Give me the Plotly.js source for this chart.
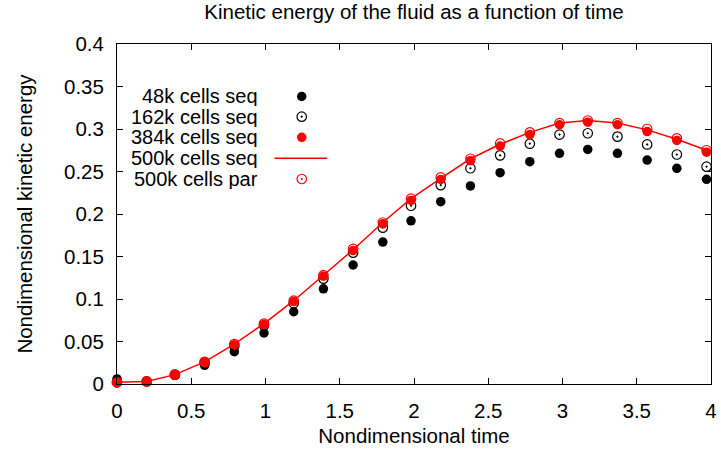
<!DOCTYPE html>
<html>
<head>
<meta charset="utf-8">
<script src="https://cdn.plot.ly/plotly-3.0.1.min.js"></script>
<style>html,body{margin:0;padding:0;background:#fff;}#chart{width:721px;height:454px;}</style>
</head>
<body>
<div id="chart"></div>
<script>
// ---- data ----
const time = [0, 0.2, 0.39, 0.59, 0.79, 0.99, 1.19, 1.39, 1.59, 1.79, 1.98, 2.18, 2.38, 2.58, 2.78, 2.98, 3.17, 3.37, 3.57, 3.77, 3.97];
const ke48kSeq  = [0.006, 0.003, 0.010, 0.022, 0.038, 0.060, 0.085, 0.112, 0.140, 0.167, 0.192, 0.2145, 0.233, 0.2486, 0.2615, 0.2714, 0.276, 0.2714, 0.2635, 0.2537, 0.2408];
const ke162kSeq = [0.002, 0.003, 0.011, 0.025, 0.045, 0.069, 0.095, 0.124, 0.1545, 0.184, 0.2097, 0.234, 0.2538, 0.269, 0.2827, 0.2935, 0.295, 0.291, 0.2818, 0.270, 0.2557];
const ke384kSeq = [0.002, 0.003, 0.011, 0.025, 0.046, 0.070, 0.097, 0.127, 0.157, 0.1885, 0.216, 0.2406, 0.2627, 0.280, 0.2935, 0.305, 0.308, 0.305, 0.297, 0.2865, 0.2727];
const ke500kSeq = [0.002, 0.003, 0.011, 0.026, 0.047, 0.071, 0.098, 0.128, 0.158, 0.190, 0.218, 0.242, 0.265, 0.282, 0.296, 0.307, 0.310, 0.307, 0.299, 0.288, 0.275];
const ke500kPar = [0.002, 0.003, 0.011, 0.026, 0.047, 0.071, 0.098, 0.128, 0.159, 0.190, 0.218, 0.243, 0.265, 0.283, 0.296, 0.307, 0.310, 0.307, 0.300, 0.289, 0.275];
const seriesNames = ["48k cells seq", "162k cells seq", "384k cells seq", "500k cells seq", "500k cells par"];
const xTickVals = [0, 0.5, 1, 1.5, 2, 2.5, 3, 3.5, 4];
const xTickText = ["0", "0.5", "1", "1.5", "2", "2.5", "3", "3.5", "4"];
const yTickVals = [0, 0.05, 0.1, 0.15, 0.2, 0.25, 0.3, 0.35, 0.4];
const yTickText = ["0", "0.05", "0.1", "0.15", "0.2", "0.25", "0.3", "0.35", "0.4"];
const titleText = "Kinetic energy of the fluid as a function of time";
const xTitle = "Nondimensional time";
const yTitle = "Nondimensional kinetic energy";

// ---- styles ----
const FONT = "Liberation Sans, Arial, Helvetica, sans-serif";
const FS = 20.5;
const LEG_FS = 20;
const styles = [
  {mode: "markers", marker: {symbol: "circle", size: 9.5, color: "#000000", line: {width: 0}}},
  {mode: "markers", marker: {symbol: "circle-open-dot", size: 9.5, color: "#000000", line: {width: 1.2}}},
  {mode: "markers", marker: {symbol: "circle", size: 9.5, color: "#ff0000", line: {width: 0}}},
  {mode: "lines", line: {color: "#ff0000", width: 1.5}},
  {mode: "markers", marker: {symbol: "circle-open-dot", size: 9.5, color: "#ff0000", line: {width: 1.2}}}
];
const seriesY = [ke48kSeq, ke162kSeq, ke384kSeq, ke500kSeq, ke500kPar];

const traces = seriesY.map((ys, i) => Object.assign({
  type: "scatter", x: time, y: ys, name: seriesNames[i], showlegend: false, cliponaxis: false
}, styles[i]));

// custom gnuplot-style legend: text right-aligned, sample to the right
const legTextX = 0.2407;
const legSymX = 0.311;
const legLineX = [0.265, 0.354];
const legY = [0.8456, 0.7862, 0.7256, 0.6638, 0.6029];
const annotations = seriesNames.map((n, i) => ({
  xref: "paper", yref: "paper", x: legTextX, y: legY[i], xanchor: "right", yanchor: "middle",
  height: 20, valign: "middle",
  text: n, showarrow: false, font: {family: FONT, size: LEG_FS, color: "#000"}
}));
seriesNames.forEach((n, i) => {
  const s = styles[i];
  const t = {type: "scatter", xaxis: "x2", yaxis: "y2", showlegend: false, hoverinfo: "skip"};
  if (s.mode === "lines") {
    t.x = legLineX; t.y = [legY[i], legY[i]]; t.mode = "lines"; t.line = s.line;
  } else {
    t.x = [legSymX]; t.y = [legY[i]]; t.mode = "markers"; t.marker = s.marker;
  }
  traces.push(t);
});

const axisCommon = {
  showline: true, linecolor: "#000", linewidth: 1, mirror: "allticks",
  ticks: "inside", ticklen: 6, tickcolor: "#000", tickwidth: 1,
  showgrid: false, zeroline: false,
  tickfont: {family: FONT, size: FS, color: "#000"}
};

const layout = {
  width: 721, height: 454,
  margin: {l: 117, r: 10, t: 44, b: 70, pad: 0},
  paper_bgcolor: "#fff", plot_bgcolor: "#fff",
  font: {family: FONT, size: FS, color: "#000"},
  title: {text: titleText, x: 0.5, xref: "paper", y: 0.974, yanchor: "middle", font: {family: FONT, size: FS, color: "#000"}},
  xaxis: Object.assign({}, axisCommon, {range: [0, 4], tickvals: xTickVals, ticktext: xTickText, ticklabelstandoff: 8,
    title: {text: xTitle, font: {family: FONT, size: FS, color: "#000"}, standoff: 8}}),
  yaxis: Object.assign({}, axisCommon, {range: [0, 0.4], tickvals: yTickVals, ticktext: yTickText, ticklabelstandoff: 8,
    title: {text: yTitle, font: {family: FONT, size: FS, color: "#000"}, standoff: 25}}),
  xaxis2: {overlaying: "x", range: [0, 1], visible: false, fixedrange: true},
  yaxis2: {overlaying: "y", range: [0, 1], visible: false, fixedrange: true},
  annotations: annotations,
  showlegend: false
};

Plotly.newPlot("chart", traces, layout, {displayModeBar: false, staticPlot: true});
</script>
</body>
</html>
